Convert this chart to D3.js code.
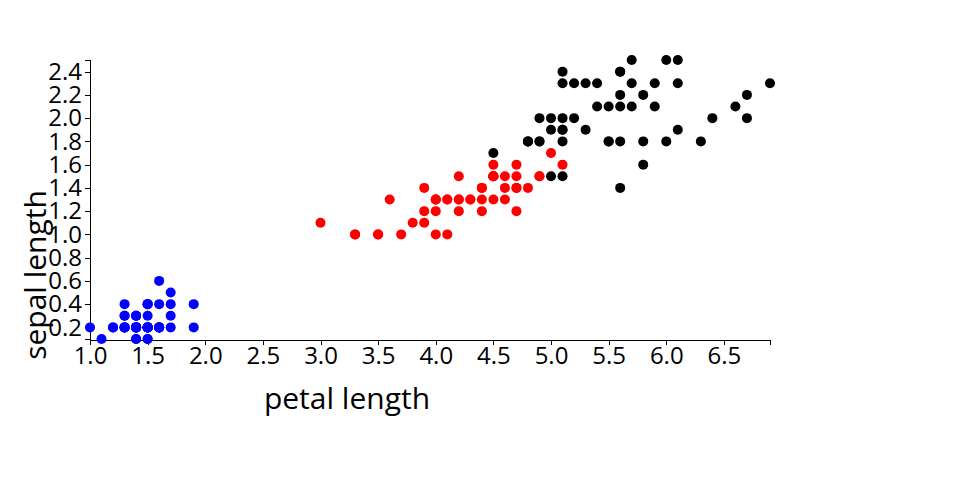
<!DOCTYPE html>
<html>
<head>
<meta charset="utf-8">
<script src="https://cdn.jsdelivr.net/npm/d3@7"></script>
<style>
  html, body { margin: 0; padding: 0; background: #fff; }
  svg { display: block; font-family: "Open Sans", sans-serif; }
  .axis path, .axis line { stroke: #000; shape-rendering: crispEdges; }
  .axis text { font-size: 24px; fill: #000; font-family: "Open Sans", sans-serif; }
  .label { font-size: 30px; fill: #000; }
</style>
</head>
<body>
<svg id="chart" width="960" height="500"></svg>
<script>
// Iris data: petal length (x) and petal width (y), per species
const setosaX = [1.4,1.4,1.3,1.5,1.4,1.7,1.4,1.5,1.4,1.5,1.5,1.6,1.4,1.1,1.2,1.5,1.3,1.4,1.7,1.5,1.7,1.5,1.0,1.7,1.9,1.6,1.6,1.5,1.4,1.6,1.6,1.5,1.5,1.4,1.5,1.2,1.3,1.4,1.3,1.5,1.3,1.3,1.3,1.6,1.9,1.4,1.6,1.4,1.5,1.4];
const setosaY = [0.2,0.2,0.2,0.2,0.2,0.4,0.3,0.2,0.2,0.1,0.2,0.2,0.1,0.1,0.2,0.4,0.4,0.3,0.3,0.3,0.2,0.4,0.2,0.5,0.2,0.2,0.4,0.2,0.2,0.2,0.2,0.4,0.1,0.2,0.2,0.2,0.2,0.1,0.2,0.2,0.3,0.3,0.2,0.6,0.4,0.3,0.2,0.2,0.2,0.2];
const versicolorX = [4.7,4.5,4.9,4.0,4.6,4.5,4.7,3.3,4.6,3.9,3.5,4.2,4.0,4.7,3.6,4.4,4.5,4.1,4.5,3.9,4.8,4.0,4.9,4.7,4.3,4.4,4.8,5.0,4.5,3.5,3.8,3.7,3.9,5.1,4.5,4.5,4.7,4.4,4.1,4.0,4.4,4.6,4.0,3.3,4.2,4.2,4.2,4.3,3.0,4.1];
const versicolorY = [1.4,1.5,1.5,1.3,1.5,1.3,1.6,1.0,1.3,1.4,1.0,1.5,1.0,1.4,1.3,1.4,1.5,1.0,1.5,1.1,1.8,1.3,1.5,1.2,1.3,1.4,1.4,1.7,1.5,1.0,1.1,1.0,1.2,1.6,1.5,1.6,1.5,1.3,1.3,1.3,1.2,1.4,1.2,1.0,1.3,1.2,1.3,1.3,1.1,1.3];
const virginicaX = [6.0,5.1,5.9,5.6,5.8,6.6,4.5,6.3,5.8,6.1,5.1,5.3,5.5,5.0,5.1,5.3,5.5,6.7,6.9,5.0,5.7,4.9,6.7,4.9,5.7,6.0,4.8,4.9,5.6,5.8,6.1,6.4,5.6,5.1,5.6,6.1,5.6,5.5,4.8,5.4,5.6,5.1,5.1,5.9,5.7,5.2,5.0,5.2,5.4,5.1];
const virginicaY = [2.5,1.9,2.1,1.8,2.2,2.1,1.7,1.8,1.8,2.5,2.0,1.9,2.1,2.0,2.4,2.3,1.8,2.2,2.3,1.5,2.3,2.0,2.0,1.8,2.1,1.8,1.8,1.8,2.1,1.6,1.9,2.0,2.2,1.5,1.4,2.3,2.4,1.8,1.8,2.1,2.4,2.3,1.9,2.3,2.5,2.3,1.9,2.0,2.3,1.8];
const seriesNames = ["setosa", "versicolor", "virginica"];
const seriesColors = ["blue", "red", "black"];
const xTicks = [1.0,1.5,2.0,2.5,3.0,3.5,4.0,4.5,5.0,5.5,6.0,6.5];
const yTicks = [0.2,0.4,0.6,0.8,1.0,1.2,1.4,1.6,1.8,2.0,2.2,2.4];
const xTitle = "petal length";
const yTitle = "sepal length";

const seriesX = [setosaX, versicolorX, virginicaX];
const seriesY = [setosaY, versicolorY, virginicaY];

const svg = d3.select("#chart");
const x = d3.scaleLinear().domain([1.0, 6.9]).range([90, 770]);
const y = d3.scaleLinear().domain([0.1, 2.5]).range([339, 60]);

svg.append("g").attr("class", "axis")
  .attr("transform", "translate(0,340)")
  .call(d3.axisBottom(x).tickValues(xTicks).tickFormat(d3.format(".1f")).tickSize(5).tickPadding(2));
svg.append("g").attr("class", "axis")
  .attr("transform", "translate(90,0)")
  .call(d3.axisLeft(y).tickValues(yTicks).tickFormat(d3.format(".1f")).tickSize(5).tickPadding(3));
svg.selectAll(".axis path").attr("fill", "none");

seriesNames.forEach((name, i) => {
  const pts = seriesX[i].map((v, j) => [v, seriesY[i][j]]);
  svg.append("g").attr("class", "series-" + name)
    .selectAll("circle").data(pts).join("circle")
    .attr("cx", d => x(d[0]))
    .attr("cy", d => y(d[1]))
    .attr("r", 5)
    .attr("fill", seriesColors[i]);
});

svg.append("text").attr("class", "label")
  .attr("x", 347).attr("y", 409)
  .attr("text-anchor", "middle")
  .text(xTitle);
svg.append("text").attr("class", "label")
  .attr("transform", "translate(46,275) rotate(-90)")
  .attr("text-anchor", "middle")
  .text(yTitle);
</script>
</body>
</html>
